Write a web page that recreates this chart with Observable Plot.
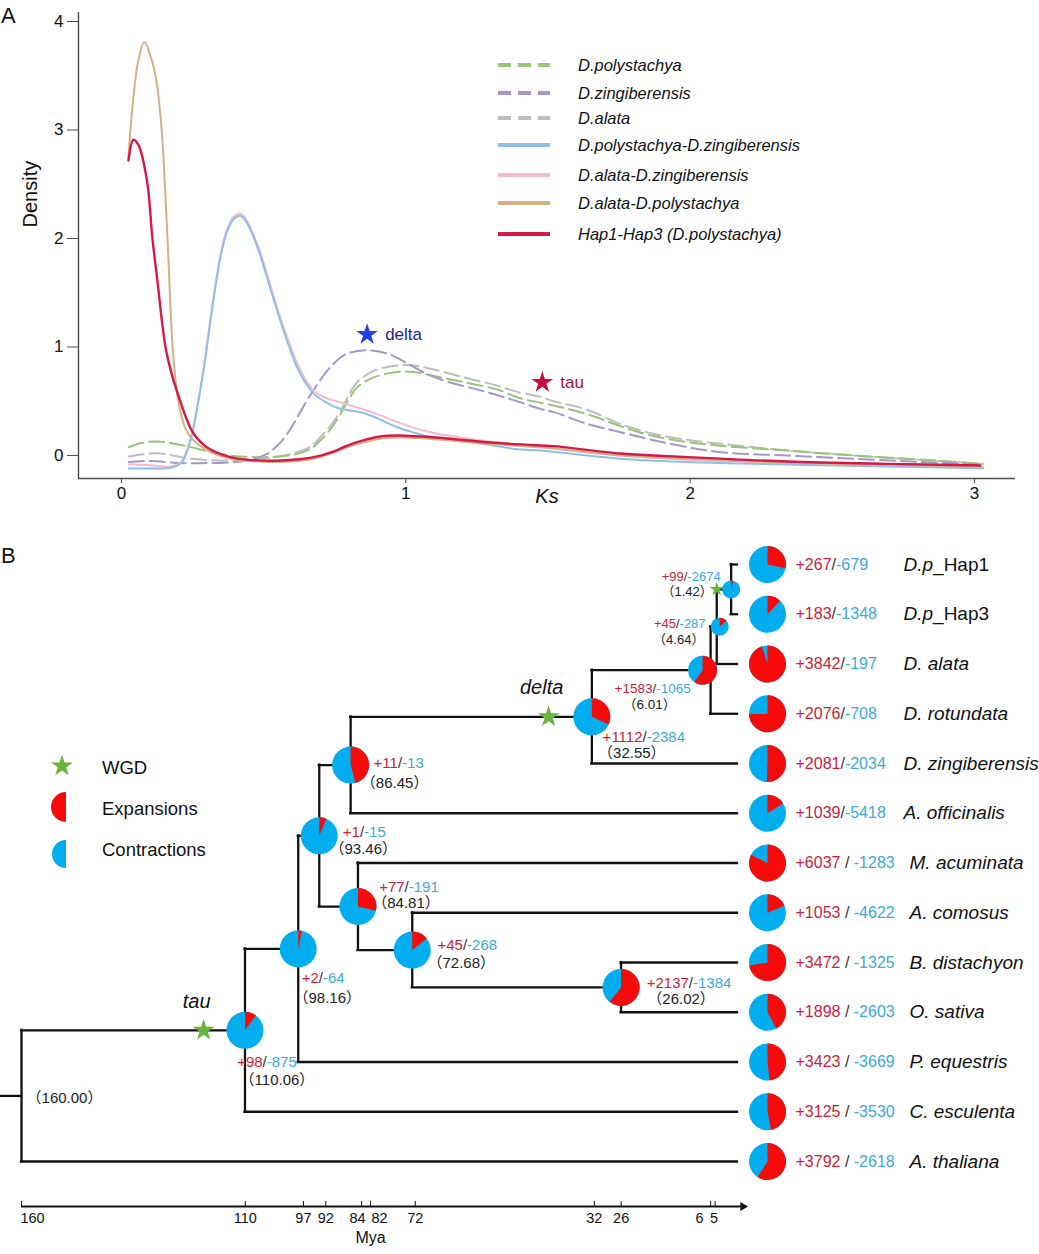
<!DOCTYPE html>
<html><head><meta charset="utf-8">
<script src="https://cdn.jsdelivr.net/npm/d3@7"></script>
<script src="https://cdn.jsdelivr.net/npm/@observablehq/plot@0.6"></script>
<style>
body{margin:0;background:#fff;}
#wrap{position:relative;width:1039px;height:1254px;overflow:hidden;background:#fff}
#wrap > svg{position:absolute;left:0}
text, tspan{white-space:pre}
</style></head><body><div id="wrap"></div>
<script>
// ================= PANEL A DATA (Ks density) =================
const seriesNames = ["D.polystachya","D.zingiberensis","D.alata","D.polystachya-D.zingiberensis","D.alata-D.zingiberensis","D.alata-D.polystachya","Hap1-Hap3 (D.polystachya)"];
const ksTicks = [0,1,2,3];
const densityTicks = [0,1,2,3,4];

const densPolystachya = [[0.026,0.077],[0.07,0.115],[0.125,0.13],[0.18,0.11],[0.243,0.077],[0.31,0.035],[0.383,0.0],[0.5,-0.015],[0.618,0.015],[0.67,0.07],[0.70,0.14],[0.74,0.26],[0.77,0.38],[0.80,0.52],[0.829,0.63],[0.887,0.72],[0.97,0.77],[1.028,0.77],[1.087,0.74],[1.204,0.675],[1.32,0.61],[1.40,0.53],[1.52,0.46],[1.64,0.38],[1.755,0.27],[1.87,0.18],[2.0,0.12],[2.107,0.09],[2.34,0.046],[2.576,0.0],[2.81,-0.037],[3.03,-0.077]];
const densZingiberensis = [[0.026,-0.06],[0.1,-0.05],[0.207,-0.07],[0.3,-0.07],[0.44,-0.046],[0.512,0.015],[0.548,0.09],[0.583,0.20],[0.618,0.35],[0.653,0.51],[0.688,0.65],[0.723,0.78],[0.76,0.88],[0.794,0.94],[0.864,0.97],[0.935,0.94],[1.005,0.85],[1.075,0.75],[1.146,0.68],[1.263,0.60],[1.38,0.51],[1.474,0.43],[1.52,0.40],[1.64,0.29],[1.755,0.215],[1.93,0.108],[2.107,0.03],[2.34,0.0],[2.576,-0.03],[2.81,-0.06],[3.03,-0.083]];
const densAlata = [[0.026,-0.01],[0.07,0.01],[0.125,0.02],[0.18,0.0],[0.243,-0.03],[0.383,-0.046],[0.5,-0.03],[0.618,0.03],[0.67,0.09],[0.70,0.17],[0.74,0.29],[0.77,0.41],[0.80,0.56],[0.829,0.675],[0.887,0.78],[0.97,0.83],[1.028,0.83],[1.087,0.80],[1.204,0.72],[1.32,0.645],[1.40,0.58],[1.474,0.54],[1.52,0.50],[1.64,0.42],[1.755,0.29],[1.87,0.2],[2.0,0.14],[2.107,0.108],[2.34,0.046],[2.576,0.0],[2.81,-0.04],[3.03,-0.077]];
const densPolyZing = [[0.026,-0.12],[0.1,-0.12],[0.177,-0.11],[0.21,-0.07],[0.243,0.14],[0.265,0.42],[0.29,0.81],[0.325,1.46],[0.35,1.85],[0.372,2.07],[0.395,2.18],[0.419,2.21],[0.44,2.15],[0.465,2.01],[0.49,1.83],[0.512,1.64],[0.535,1.44],[0.559,1.24],[0.59,1.0],[0.618,0.81],[0.645,0.68],[0.676,0.57],[0.72,0.49],[0.77,0.43],[0.82,0.41],[0.864,0.38],[0.92,0.32],[0.97,0.26],[1.03,0.21],[1.087,0.17],[1.17,0.14],[1.263,0.11],[1.40,0.055],[1.474,0.046],[1.755,-0.03],[1.99,-0.06],[2.46,-0.09],[3.03,-0.117]];
const densAlataZing = [[0.026,-0.08],[0.1,-0.09],[0.177,-0.1],[0.21,-0.06],[0.243,0.15],[0.265,0.43],[0.29,0.82],[0.325,1.48],[0.35,1.87],[0.372,2.09],[0.395,2.2],[0.419,2.23],[0.44,2.17],[0.465,2.03],[0.49,1.86],[0.512,1.67],[0.535,1.47],[0.559,1.27],[0.59,1.04],[0.618,0.85],[0.645,0.71],[0.676,0.6],[0.72,0.53],[0.77,0.49],[0.82,0.45],[0.864,0.415],[0.92,0.36],[0.97,0.31],[1.03,0.255],[1.087,0.215],[1.17,0.175],[1.263,0.14],[1.40,0.09],[1.474,0.077],[1.755,0.0],[1.99,-0.04],[2.46,-0.075],[3.03,-0.1]];
const densAlataPoly = [[0.024,2.72],[0.04,3.25],[0.06,3.65],[0.081,3.81],[0.1,3.7],[0.12,3.5],[0.14,3.05],[0.162,2.0],[0.18,1.0],[0.2,0.5],[0.225,0.25],[0.25,0.15],[0.3,0.05],[0.383,-0.03],[0.45,-0.05],[0.56,-0.06],[0.676,-0.03],[0.75,0.03],[0.794,0.075],[0.85,0.12],[0.911,0.155],[0.97,0.165],[1.05,0.16],[1.146,0.14],[1.3,0.105],[1.474,0.075],[1.755,0.0],[1.99,-0.03],[2.34,-0.065],[2.69,-0.085],[3.02,-0.1]];
const densHap = [[0.025,2.72],[0.042,2.91],[0.06,2.86],[0.09,2.53],[0.109,2.0],[0.126,1.62],[0.155,1.0],[0.18,0.72],[0.207,0.5],[0.23,0.33],[0.254,0.20],[0.3,0.077],[0.383,-0.015],[0.45,-0.04],[0.56,-0.046],[0.676,-0.015],[0.75,0.04],[0.794,0.092],[0.85,0.14],[0.911,0.175],[0.97,0.184],[1.05,0.175],[1.146,0.157],[1.3,0.12],[1.474,0.092],[1.52,0.086],[1.755,0.018],[1.99,-0.015],[2.34,-0.055],[2.69,-0.077],[3.02,-0.092]];

const peakLabels = ["delta","tau"];
const peakKs = [0.864, 1.48];
const peakDensity = [1.115, 0.673];

// ================= PANEL B DATA (tree) =================
const tipNames = ["D.p_Hap1","D.p_Hap3","D. alata","D. rotundata","D. zingiberensis","A. officinalis","M. acuminata","A. comosus","B. distachyon","O. sativa","P. equestris","C. esculenta","A. thaliana"];
const tipGain = [267,183,3842,2076,2081,1039,6037,1053,3472,1898,3423,3125,3792];
const tipLoss = [679,1348,197,708,2034,5418,1283,4622,1325,2603,3669,3530,2618];
const tipSeparator = ["/","/","/","/","/","/"," / "," / "," / "," / "," / "," / "," / "];

const nodeNames = ["1.42","4.64","6.01","32.55","86.45","26.02","72.68","84.81","93.46","98.16","110.06","160.00"];
const nodeAges  = [1.42,4.64,6.01,32.55,86.45,26.02,72.68,84.81,93.46,98.16,110.06,160.00];
const nodeChildA = ["D.p_Hap1","1.42","4.64","6.01","32.55","B. distachyon","A. comosus","M. acuminata","86.45","93.46","98.16","110.06"];
const nodeChildB = ["D.p_Hap3","D. alata","D. rotundata","D. zingiberensis","A. officinalis","O. sativa","26.02","72.68","84.81","P. equestris","C. esculenta","A. thaliana"];
const nodeGain = [99,45,1583,1112,11,2137,45,77,1,2,98,null];
const nodeLoss = [2674,287,1065,2384,13,1384,268,191,15,64,875,null];
const rootStemAge = 164.7;

const wgdLabels = ["tau","delta",""];
const wgdAges = [119.3, 42.2, 4.64];
const wgdOnBranchTo = ["110.06","32.55","1.42"];

const myaTicks = [160,110,97,92,84,82,72,32,26,6,5];

// ================= STYLE =================
const FONT = "'Liberation Sans', Arial, 'Noto Sans CJK SC', sans-serif";
const seriesColors = ["#97c575","#a597c9","#bdbdbd","#8dbfeb","#f2bccb","#d1b383","#d6194a"];
const PIE_RED = "#f70a0a", PIE_BLUE = "#00aeef", TXT_RED = "#c81e3a", TXT_BLUE = "#3da8dc", GREEN = "#6ab23e";
const nodePieR = {"1.42": 9, "4.64": 9, "6.01": 14.5};
const nodePieDx = {"6.01": -8, "4.64": 3};
const myaLabelShift = {160: 11, 6: -11, 5: -1, 84: -4, 82: 9};
// label placement: [dx, dy] for counts (g) and age (a), font size
const nodeLabelLayout = {
  "1.42":  {g:[-40,-13], a:[-44,2], fs:13},
  "4.64":  {g:[-37,-3], a:[-38,13], fs:13},
  "6.01":  {g:[-58,18], a:[-61,34], fs:13.5},
  "32.55": {g:[52,20], a:[40,36], fs:15},
  "86.45": {g:[48,-2], a:[44,18], fs:15},
  "93.46": {g:[45,-4], a:[44,13], fs:15},
  "84.81": {g:[51,-19], a:[48,-3], fs:15},
  "72.68": {g:[55,-5], a:[49,13], fs:15},
  "26.02": {g:[68,-4], a:[60,12], fs:15},
  "98.16": {g:[25,29], a:[29,49], fs:15},
  "110.06":{g:[22,32], a:[32,50], fs:15},
  "160.00":{a:[43,2], fs:15}
};

const wrap = document.getElementById("wrap");
const svgNS = "http://www.w3.org/2000/svg";

// ================= PANEL A PLOT =================
const densArrays = [densPolystachya, densZingiberensis, densAlata, densPolyZing, densAlataZing, densAlataPoly, densHap];
const rowsA = densArrays.flatMap((arr, i) => arr.map(([ks, density]) => ({series: seriesNames[i], ks, density})));
const peaks = peakLabels.map((label, i) => ({label, ks: peakKs[i], density: peakDensity[i]}));
const xDomA = [-0.151, 3.144], yDomA = [-0.212, 4.083];
const drawOrder = [2,0,1,4,3,5,6];
const peakStarColor = ["#1f3fe6","#c8103c"], peakTextColor = ["#1f1f8f","#a3123a"];

const plotA = Plot.plot({
  width: 1039, height: 530, marginLeft: 78, marginRight: 24, marginTop: 12, marginBottom: 52,
  style: {fontFamily: FONT, background: "transparent", overflow: "visible"},
  x: {domain: xDomA},
  y: {domain: yDomA},
  marks: [
    Plot.ruleX([xDomA[0]], {stroke: "#4a4a4a", strokeWidth: 1.4}),
    Plot.ruleY([yDomA[0]], {stroke: "#4a4a4a", strokeWidth: 1.4}),
    Plot.axisX({ticks: ksTicks, tickSize: 5, tickPadding: 3, fontSize: 17, label: null, stroke: "#4a4a4a", fill: "#111", tickFormat: d => String(d)}),
    Plot.axisY({ticks: densityTicks, tickSize: 11, tickPadding: 4, fontSize: 17, label: null, stroke: "#4a4a4a", fill: "#111", tickFormat: d => String(d)}),
    ...drawOrder.map(i => Plot.line(rowsA.filter(d => d.series === seriesNames[i]), {
      x: "ks", y: "density", stroke: seriesColors[i], strokeWidth: i === 6 ? 2.4 : 2,
      strokeDasharray: i < 3 ? "15,6" : null, curve: "catmull-rom"
    })),
    ...peaks.map((p, i) => Plot.dot([p], {x: "ks", y: "density", symbol: "star", r: 6.8, fill: peakStarColor[i]})),
    ...peaks.map((p, i) => Plot.text([p], {x: "ks", y: "density", text: "label", dx: 18, textAnchor: "start", fontSize: 17, fill: peakTextColor[i]})),
    Plot.text(["Ks"], {text: d => d, frameAnchor: "bottom", dy: 24, fontSize: 20, fontStyle: "italic", fill: "#111"}),
    Plot.text(["Density"], {text: d => d, frameAnchor: "left", dx: -48, dy: -18, rotate: -90, fontSize: 20, fill: "#111"})
  ]
});
plotA.style.top = "0px";
wrap.appendChild(plotA);

// ================= PANEL B PLOT =================
const rowOf = new Map(tipNames.map((n, i) => [n, i]));
const ageOf = new Map(tipNames.map(n => [n, 0]));
nodeNames.forEach((n, i) => {
  ageOf.set(n, nodeAges[i]);
  rowOf.set(n, (rowOf.get(nodeChildA[i]) + rowOf.get(nodeChildB[i])) / 2);
});
const edges = [];
const verticals = [];
nodeNames.forEach((n, i) => {
  const ra = rowOf.get(nodeChildA[i]), rb = rowOf.get(nodeChildB[i]);
  verticals.push({age: nodeAges[i], y1: Math.min(ra, rb), y2: Math.max(ra, rb)});
  [nodeChildA[i], nodeChildB[i]].forEach(c => edges.push({from: nodeAges[i], to: ageOf.get(c), row: rowOf.get(c)}));
});
const rootName = nodeNames[nodeNames.length - 1];
edges.push({from: rootStemAge, to: ageOf.get(rootName), row: rowOf.get(rootName)});

const tips = tipNames.map((n, i) => ({name: n, row: i, gain: tipGain[i], loss: tipLoss[i],
  label: `+${tipGain[i]}${tipSeparator[i]}-${tipLoss[i]}`, spaced: tipSeparator[i].length > 1,
  frac: tipGain[i] / (tipGain[i] + tipLoss[i])}));
const nodes = nodeNames.map((n, i) => ({name: n, age: nodeAges[i], row: rowOf.get(n), gain: nodeGain[i], loss: nodeLoss[i],
  frac: nodeGain[i] == null ? null : nodeGain[i] / (nodeGain[i] + nodeLoss[i])}));
const wgd = wgdLabels.map((l, i) => ({label: l, age: wgdAges[i], row: rowOf.get(wgdOnBranchTo[i])}));

const wedge = f => ({draw(ctx, size) {
  const r = Math.sqrt(size / Math.PI);
  if (!(f > 0)) return;
  if (f >= 1) { ctx.moveTo(r, 0); ctx.arc(0, 0, r, 0, 2 * Math.PI); return; }
  const a0 = -Math.PI / 2, a1 = a0 + 2 * Math.PI * f;
  ctx.moveTo(0, 0); ctx.lineTo(r * Math.cos(a0), r * Math.sin(a0)); ctx.arc(0, 0, r, a0, a1); ctx.closePath();
}});

const HB = 724, MB = 48, yRangeB = [34, 631];
const axisRow = 12 * ((HB - MB) - yRangeB[0]) / (yRangeB[1] - yRangeB[0]);
const axisEnd = -1.2;
const pieNodes = nodes.filter(d => d.frac != null);
const shiftedMya = myaTicks.filter(t => t in myaLabelShift);

const plotB = Plot.plot({
  width: 1039, height: HB, marginLeft: 21, marginRight: 302, marginTop: 0, marginBottom: MB,
  style: {fontFamily: FONT, background: "transparent", overflow: "visible"},
  x: {domain: [160, 0]},
  y: {domain: [0, 12], range: yRangeB, axis: null},
  marks: [
    Plot.ruleY(edges, {x1: "from", x2: "to", y: "row", stroke: "#111", strokeWidth: 2.3, strokeLinecap: "square"}),
    Plot.ruleX(verticals, {x: "age", y1: "y1", y2: "y2", stroke: "#111", strokeWidth: 2.3, strokeLinecap: "square"}),
    // time axis
    Plot.ruleY([axisRow], {y: d => d, x1: 160, x2: axisEnd, stroke: "#111", strokeWidth: 2}),
    Plot.dot([axisRow], {y: d => d, x: () => axisEnd, symbol: "triangle", r: 3.3, rotate: 90, fill: "#111"}),
    Plot.axisX({ticks: myaTicks, tickSize: -5, tickPadding: 11, fontSize: 14.5, label: null, stroke: "#111", fill: "#111",
      tickFormat: d => (d in myaLabelShift) ? "" : String(d)}),
    ...shiftedMya.map(t => Plot.axisX([t], {tickSize: 0, tickPadding: 6, dx: myaLabelShift[t], fontSize: 14.5, label: null, fill: "#111", tickFormat: d => String(d)})),
    Plot.text(["Mya"], {text: d => d, frameAnchor: "bottom", dy: 36, dx: -9, fontSize: 16, fill: "#111"}),
    // WGD stars
    Plot.dot(wgd.filter(d => d.label), {x: "age", y: "row", symbol: "star", r: 6.8, fill: GREEN}),
    Plot.dot(wgd.filter(d => !d.label), {x: "age", y: "row", symbol: "star", r: 4.4, fill: GREEN}),
    Plot.text(wgd.filter(d => d.label), {x: "age", y: "row", text: "label", dx: -7, dy: -29, fontSize: 20, fontStyle: "italic", fill: "#111"}),
    // internal node pies
    ...pieNodes.map(d => Plot.dot([d], {x: "age", y: "row", r: nodePieR[d.name] || 18.5, dx: nodePieDx[d.name] || 0, fill: PIE_BLUE})),
    ...pieNodes.map(d => Plot.dot([d], {x: "age", y: "row", r: nodePieR[d.name] || 18.5, dx: nodePieDx[d.name] || 0, fill: PIE_RED, symbol: wedge(d.frac)})),
    // internal node labels
    ...pieNodes.map(d => {
      const L = nodeLabelLayout[d.name];
      return Plot.text([d], {x: "age", y: "row", text: e => `+${e.gain}/-${e.loss}`, dx: L.g[0], dy: L.g[1], fontSize: L.fs});
    }),
    ...nodes.map(d => {
      const L = nodeLabelLayout[d.name];
      return Plot.text([d], {x: "age", y: "row", text: e => `（${e.age.toFixed(2)}）`, dx: L.a[0], dy: L.a[1], fontSize: L.fs, fill: "#222"});
    }),
    // tip pies and labels
    Plot.dot(tips, {x: () => 0, y: "row", r: 18.5, dx: 30, fill: PIE_BLUE}),
    ...tips.map(d => Plot.dot([d], {x: () => 0, y: "row", r: 18.5, dx: 30, fill: PIE_RED, symbol: wedge(d.frac)})),
    Plot.text(tips, {x: () => 0, y: "row", text: "label", dx: 58, textAnchor: "start", fontSize: 16}),
    Plot.text(tips.filter(d => !d.spaced), {x: () => 0, y: "row", text: "name", dx: 166, textAnchor: "start", fontSize: 19, fontStyle: "italic", fill: "#111"}),
    Plot.text(tips.filter(d => d.spaced), {x: () => 0, y: "row", text: "name", dx: 172, textAnchor: "start", fontSize: 19, fontStyle: "italic", fill: "#111"})
  ]
});
plotB.style.top = "530px";
wrap.appendChild(plotB);

// colour the "+gain/-loss" labels and upright "_Hap" parts
function mk(tag, attrs, text) {
  const e = document.createElementNS(svgNS, tag);
  for (const k in attrs) e.setAttribute(k, attrs[k]);
  if (text != null) e.textContent = text;
  return e;
}
plotB.querySelectorAll("text").forEach(t => {
  const s = t.textContent;
  let m = s.match(/^(\+\d+)(\s*\/\s*)(-\d+)$/);
  if (m) {
    t.textContent = "";
    t.appendChild(mk("tspan", {fill: TXT_RED}, m[1]));
    t.appendChild(mk("tspan", {fill: "#333"}, m[2]));
    t.appendChild(mk("tspan", {fill: TXT_BLUE}, m[3]));
    return;
  }
  m = s.match(/^(D\.p)(_Hap\d)$/);
  if (m) {
    t.textContent = "";
    t.appendChild(mk("tspan", {"font-style": "italic"}, m[1]));
    t.appendChild(mk("tspan", {"font-style": "normal"}, m[2]));
  }
});

// ================= OVERLAY: panel letters + legends =================
const ov = d3.select(wrap).append("svg").attr("width", 1039).attr("height", 1254)
  .style("position", "absolute").style("top", "0px").style("left", "0px").style("font-family", FONT);
ov.append("text").attr("x", 1).attr("y", 23).attr("font-size", 22).attr("fill", "#111").text("A");
ov.append("text").attr("x", 1).attr("y", 563).attr("font-size", 22).attr("fill", "#111").text("B");

// legend A
const legAY = [65, 93, 118, 145, 175, 203, 234];
seriesNames.forEach((n, i) => {
  ov.append("line").attr("x1", 498).attr("x2", 550).attr("y1", legAY[i]).attr("y2", legAY[i])
    .attr("stroke", seriesColors[i]).attr("stroke-width", 4)
    .attr("stroke-dasharray", i < 3 ? "13,7" : null);
  ov.append("text").attr("x", 578).attr("y", legAY[i]).attr("dy", "0.36em").attr("font-size", 16.5)
    .attr("font-style", "italic").attr("fill", "#111").text(n);
});

// legend B
const legB = [{label: "WGD", y: 767}, {label: "Expansions", y: 808}, {label: "Contractions", y: 849}];
ov.append("path").attr("transform", "translate(62,766)").attr("fill", GREEN)
  .attr("d", d3.symbol(d3.symbolStar, 150)());
ov.append("path").attr("fill", PIE_RED).attr("d", "M66,792 A15,15 0 0 0 66,822 Z");
ov.append("path").attr("fill", PIE_BLUE).attr("d", "M66,840 A14,14 0 0 0 66,868 Z");
legB.forEach(d => ov.append("text").attr("x", 102).attr("y", d.y).attr("dy", "0.36em")
  .attr("font-size", 18.5).attr("fill", "#111").text(d.label));
</script></body></html>
